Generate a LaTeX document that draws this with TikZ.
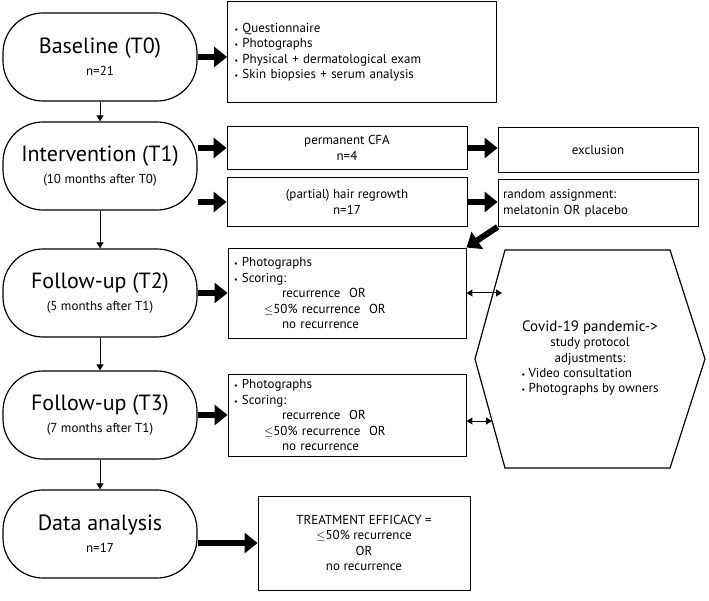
\documentclass[tikz,border=0pt]{standalone}
\usepackage{fontspec}
\setmainfont{PT Sans}
\usetikzlibrary{arrows.meta,positioning,calc}
\tikzset{%
    stage/.style={%
        rectangle, rounded corners=40pt, draw, line width=1.2pt, minimum width=194pt, minimum height=88pt, align=center, font=\fontsize{22}{24}\selectfont
    },
    info/.style={%
        rectangle, draw, line width=0.9pt, align=center, font=\fontsize{13}{15.5}\selectfont
    },
    bigarrow/.style={%
        line width=6pt, -{Triangle[length=13pt,width=20pt]}
    },
    down/.style={%
        line width=1pt, -{Triangle[length=6pt,width=7pt]}
    },
    both/.style={%
        line width=1pt, {Triangle[length=6pt,width=7pt]}-{Triangle[length=6pt,width=7pt]}
    },
}
\newcommand{\subt}[1]{\\[-2pt]{\fontsize{13}{15}\selectfont #1}}
\newcommand{\itm}{{\footnotesize\textbullet}\ }
\begin{document}
\begin{tikzpicture}[x=1pt,y=-1pt]
  \useasboundingbox (0,0) rectangle (709,601);

  \node[stage] (t0) at (100,57) {Baseline (T0)\subt{n=21}};
  \node[stage] (t1) at (100,166) {Intervention (T1)\subt{(10 months after T0)}};
  \node[stage] (t2) at (100,293) {Follow-up (T2)\subt{(5 months after T1)}};
  \node[stage] (t3) at (100,415) {Follow-up (T3)\subt{(7 months after T1)}};
  \node[stage] (da) at (100,534) {Data analysis\subt{n=17}};

  \draw[down] (t0) -- (t1);
  \draw[down] (t1) -- (t2);
  \draw[down] (t2) -- (t3);
  \draw[down] (t3) -- (da);

  \node[info, minimum width=269pt, minimum height=101pt, align=left, text width=255pt] (exam) at (362,52) {%
    \itm Questionnaire\\ \itm Photographs\\ \itm Physical + dermatological exam\\ \itm Skin biopsies + serum analysis};
  \node[info, minimum width=240pt, minimum height=43pt] (cfa) at (347,148) {permanent CFA\\n=4};
  \node[info, minimum width=240pt, minimum height=49pt] (regrow) at (347,202) {(partial) hair regrowth\\n=17};
  \node[info, minimum width=200pt, minimum height=45pt] (excl) at (598,150) {exclusion};
  \node[info, minimum width=200pt, minimum height=47pt, align=left, text width=190pt] (rand) at (598,203) {random assignment:\\melatonin OR placebo};
  \node[info, minimum width=238pt, minimum height=90pt, align=left, text width=226pt] (score2) at (347,293) {%
    \itm Photographs\\ \itm Scoring:\\ \hspace*{48pt}recurrence\ \ OR\\ \hspace*{30pt}$\leq$50\% recurrence\ \ OR\\ \hspace*{48pt}no recurrence};
  \node[info, minimum width=238pt, minimum height=82pt, align=left, text width=226pt] (score3) at (347,415) {%
    \itm Photographs\\ \itm Scoring:\\ \hspace*{48pt}recurrence\ \ OR\\ \hspace*{30pt}$\leq$50\% recurrence\ \ OR\\ \hspace*{48pt}no recurrence};
  \node[info, minimum width=212pt, minimum height=94pt] (eff) at (364,543) {TREATMENT EFFICACY =\\$\leq$50\% recurrence\\OR\\no recurrence};

  % covid hexagon
  \node[font=\fontsize{13}{15.5}\selectfont, align=center] (covid) at (590,359) {%
    {\fontsize{15}{17}\selectfont Covid-19 pandemic->}\\study protocol\\adjustments:\\
    \begin{tabular}{@{}l@{}}\itm Video consultation\\\itm Photographs by owners\end{tabular}};
  \draw[line width=1.2pt] ($(covid)+(-115,0)$) -- ($(covid)+(-85,-109)$) -- ($(covid)+(80,-109)$)
    -- ($(covid)+(115,0)$) -- ($(covid)+(80,109)$) -- ($(covid)+(-85,109)$) -- cycle;
  \coordinate (hexa) at ($(covid)+(-88,-66)$);
  \coordinate (hexb) at ($(covid)+(-98,62)$);
  \coordinate (s3e) at ($(score3.east)+(0,6)$);

  \draw[bigarrow] (t0.east) -- (exam.west |- t0.east);
  \draw[bigarrow] ($(t1.east)+(0,-18)$) -- (cfa.west |- {$(t1.east)+(0,-18)$});
  \draw[bigarrow] (t1.east |- regrow.west) -- (regrow.west);
  \draw[bigarrow] (cfa.east) -- (excl.west |- cfa.east);
  \draw[bigarrow] (regrow.east) -- (rand.west |- regrow.east);
  \draw[bigarrow] (rand.south west) -- (score2.north east);
  \draw[bigarrow] (t2.east) -- (score2.west);
  \draw[bigarrow] (t3.east) -- (score3.west);
  \draw[bigarrow] (da.east |- eff.west) -- (eff.west);
  \draw[both] (score2.east) -- (hexa |- score2.east);
  \draw[both] (s3e) -- (hexb |- s3e);
\end{tikzpicture}
\end{document}
